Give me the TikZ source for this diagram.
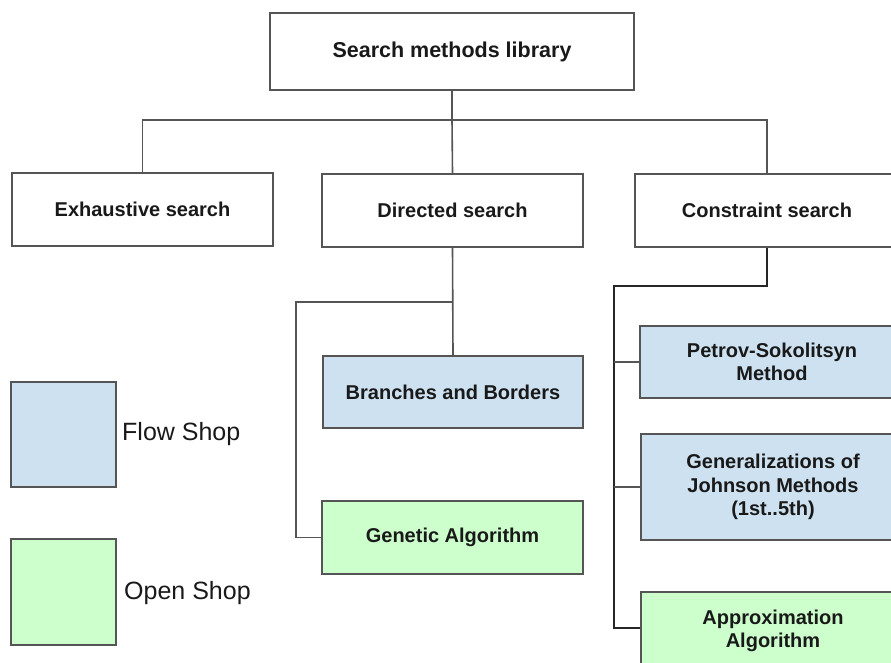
\documentclass[tikz,border=0pt]{standalone}
\usepackage{fontspec}
\setmainfont{Liberation Sans}
\definecolor{flowblue}{RGB}{205,225,240}
\definecolor{opengreen}{RGB}{204,255,204}
\definecolor{edgegray}{RGB}{85,85,85}
\definecolor{txt}{RGB}{25,25,25}
\tikzset{
  box/.style={draw=edgegray, line width=1.6pt, fill=white, inner sep=0pt, align=center,
    font=\fontsize{20}{23.5}\selectfont\bfseries, text=txt},
  bluebox/.style={box, fill=flowblue},
  greenbox/.style={box, fill=opengreen},
  conn/.style={draw=edgegray, line width=1.6pt},
  connk/.style={draw=black!85, line width=2pt},
  legtxt/.style={font=\fontsize{25}{28}\selectfont, text=txt, anchor=west, inner sep=0pt}
}
\begin{document}
\begin{tikzpicture}[x=1pt,y=-1pt]
\useasboundingbox (0,0) rectangle (891,662);
\clip (0,0) rectangle (891,662);
\fill[white] (0,0) rectangle (891,662);

\coordinate (bus) at (452,120);
\coordinate (dj) at (453,302);
\coordinate (gl) at (296,302);
\coordinate (cj) at (614,286);

\node[box, minimum width=364pt, minimum height=77pt, font=\fontsize{21.5}{24}\selectfont\bfseries] (root) at (452,51.5) {Search methods library};
\node[box, minimum width=261pt, minimum height=73pt] (ex) at (142.5,209.5) {Exhaustive search};
\node[box, minimum width=261pt, minimum height=73pt] (dir) at (452.5,210.5) {Directed search};
\node[box, minimum width=264pt, minimum height=73pt] (cs) at (767,210.5) {Constraint search};

\node[bluebox, minimum width=260pt, minimum height=72pt] (bb) at (453,392) {Branches and Borders};
\node[greenbox, minimum width=261pt, minimum height=73pt] (ga) at (452.5,537.5) {Genetic Algorithm};

\node[bluebox, minimum width=264pt, minimum height=72pt] (ps) at (772,362) {Petrov-Sokolitsyn\\Method};
\node[bluebox, minimum width=264pt, minimum height=106pt] (gj) at (773,487) {Generalizations of\\Johnson Methods\\(1st..5th)};
\node[greenbox, minimum width=264pt, minimum height=78pt] (am) at (773,631) {Approximation\\Algorithm};

\node[draw=edgegray, line width=1.3pt, fill=flowblue, minimum width=105pt, minimum height=105pt, inner sep=0pt] (lb) at (63.5,434.5) {};
\node[draw=edgegray, line width=1.3pt, fill=opengreen, minimum width=105pt, minimum height=106pt, inner sep=0pt] (lg) at (63.5,592) {};
\node[legtxt] (lbt) at (122,434) {Flow Shop};
\node[legtxt] (lgt) at (124,593) {Open Shop};

\draw[conn] (root.south) -- (bus);
\draw[conn] (ex.north) |- (bus) -| (cs.north);
\draw[conn] (bus) -- (dir.north);
\draw[conn] (dir.south) -- (bb.north);
\draw[conn] (dj) -- (gl) |- (ga.west);
\draw[connk] (cs.south) |- (cj) -- (cj |- 0,628) -- (am.west |- 0,628);
\draw[conn] (cj |- ps.west) -- (ps.west);
\draw[conn] (cj |- gj.west) -- (gj.west);
\end{tikzpicture}
\end{document}
